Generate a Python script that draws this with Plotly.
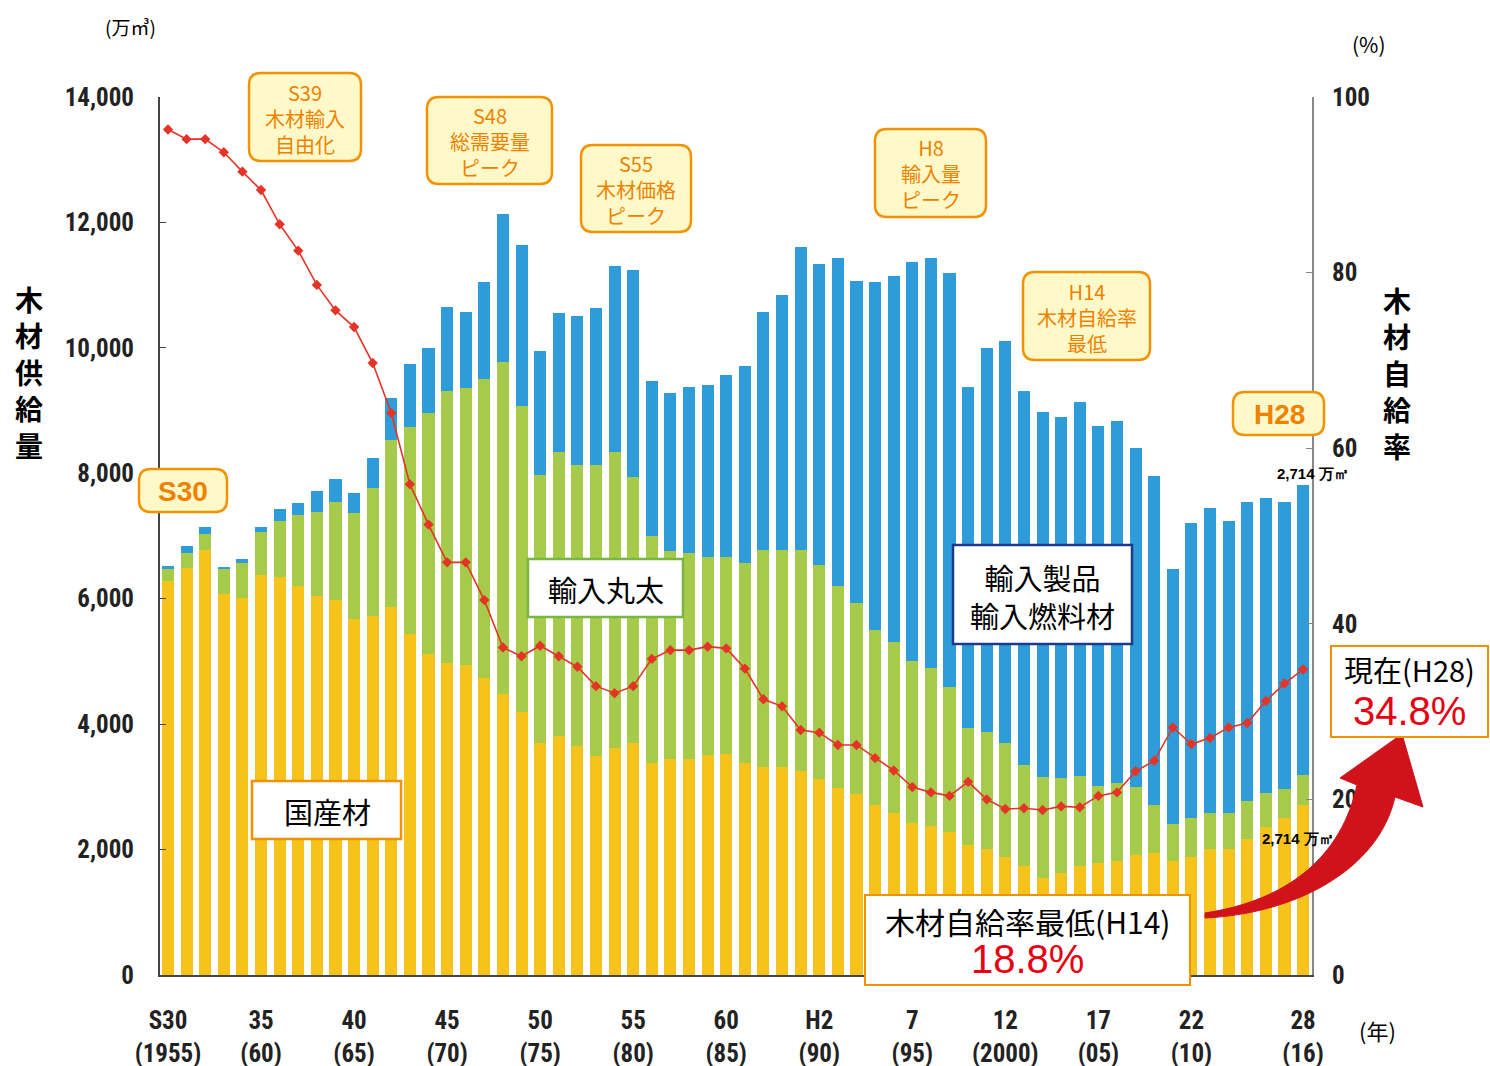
import plotly.graph_objects as go

# ---------------- data ----------------
years = list(range(1955, 2017))
domestic = [6287, 6482, 6777, 6075, 6016, 6378, 6351, 6203, 6048, 5979,
            5676, 5729, 5863, 5437, 5118, 4970, 4943, 4731, 4481, 4198,
            3694, 3816, 3656, 3497, 3624, 3694, 3385, 3439, 3444, 3508,
            3524, 3385, 3312, 3312, 3258, 3130, 2986, 2886, 2711, 2588,
            2428, 2376, 2285, 2073, 2009, 1886, 1740, 1551, 1622, 1738,
            1781, 1818, 1913, 1940, 1823, 1886, 2004, 2009, 2164, 2355,
            2499, 2714]
imported_logs = [187, 242, 255, 407, 553, 681, 893, 1132, 1339, 1567,
                 1685, 2031, 2668, 3305, 3838, 4347, 4412, 4772, 5298, 4874,
                 4283, 4528, 4476, 4635, 4720, 4251, 3615, 3321, 3280, 3162,
                 3146, 3179, 3465, 3465, 3519, 3407, 3216, 3041, 2790, 2727,
                 2586, 2515, 2312, 1861, 1870, 1818, 1610, 1610, 1515, 1435,
                 1233, 1239, 1079, 770, 585, 622, 584, 579, 611, 542,
                 467, 483]
imported_products = [53, 116, 116, 24, 64, 89, 182, 187, 335, 362,
                     328, 488, 665, 1005, 1036, 1339, 1212, 1551, 2350, 2572,
                     1972, 2216, 2376, 2508, 2961, 3296, 2471, 2524, 2647, 2738,
                     2897, 3146, 3790, 4066, 4836, 4799, 5225, 5139, 5554, 5836,
                     6359, 6537, 6592, 5447, 6113, 6405, 5963, 5820, 5756, 5968,
                     5745, 5777, 5405, 5251, 4066, 4704, 4863, 4651, 4772, 4704,
                     4571, 4622]
self_rate = [96.3, 95.2, 95.2, 93.7, 91.5, 89.4, 85.5, 82.5, 78.6, 75.7,
             73.8, 69.7, 64.0, 55.9, 51.3, 47.0, 47.0, 42.7, 37.3, 36.3,
             37.5, 36.3, 35.1, 32.9, 32.1, 32.9, 36.0, 37.0, 37.0, 37.4,
             37.2, 34.9, 31.4, 30.6, 27.9, 27.6, 26.2, 26.2, 24.7, 23.3,
             21.4, 20.8, 20.4, 22.0, 20.0, 18.9, 19.0, 18.8, 19.2, 19.1,
             20.4, 20.8, 23.2, 24.4, 28.2, 26.3, 27.0, 28.2, 28.7, 31.2,
             33.2, 34.8]

x_tickvals = [1955, 1960, 1965, 1970, 1975, 1980, 1985, 1990, 1995, 2000, 2005, 2010, 2016]
x_ticktext = ["S30<br>(1955)", "35<br>(60)", "40<br>(65)", "45<br>(70)", "50<br>(75)",
              "55<br>(80)", "60<br>(85)", "H2<br>(90)", "7<br>(95)", "12<br>(2000)",
              "17<br>(05)", "22<br>(10)", "28<br>(16)"]
y_tickvals = [0, 2000, 4000, 6000, 8000, 10000, 12000, 14000]
y_ticktext = ["0", "2,000", "4,000", "6,000", "8,000", "10,000", "12,000", "14,000"]
y2_tickvals = [0, 20, 40, 60, 80, 100]
y2_ticktext = ["0", "20", "40", "60", "80", "100"]

# ---------------- style ----------------
W, H = 1490, 1066
ML, MR, MT, MB = 160, 178, 97, 91
PW, PH = W - ML - MR, H - MT - MB

YELLOW = "#F5C31C"
GREEN = "#A6CB4B"
BLUE = "#2E9CD9"
RED = "#E63327"
ORANGE = "#F39200"
ORANGE_TXT = "#EE8200"
CREAM = "#FFF9C9"
NARROW = "Liberation Sans Narrow, Arial Narrow, Roboto Condensed, Liberation Sans, sans-serif"
JP = "Noto Sans CJK JP, Noto Sans, sans-serif"
SANS = "Liberation Sans, Arial, sans-serif"


def px(xp):
    return (xp - ML) / PW


def py(yp):
    return (H - MB - yp) / PH


def pt(xp, yp):
    return f"{px(xp):.5f},{py(yp):.5f}"


fig = go.Figure()
fig.add_trace(go.Bar(x=years, y=domestic, marker=dict(color=YELLOW, line=dict(width=0)), name="国産材"))
fig.add_trace(go.Bar(x=years, y=imported_logs, marker=dict(color=GREEN, line=dict(width=0)), name="輸入丸太"))
fig.add_trace(go.Bar(x=years, y=imported_products, marker=dict(color=BLUE, line=dict(width=0)), name="輸入製品・輸入燃料材"))
fig.add_trace(go.Scatter(x=years, y=self_rate, yaxis="y2", mode="lines+markers",
                         line=dict(color=RED, width=1.6),
                         marker=dict(symbol="diamond", size=8, color=RED),
                         name="木材自給率"))

shapes = []
annos = []


def rounded(x0, y0, x1, y1, r=12, fill=CREAM, line=ORANGE, lw=2.5):
    d = (f"M {pt(x0 + r, y0)} L {pt(x1 - r, y0)} Q {pt(x1, y0)} {pt(x1, y0 + r)} "
         f"L {pt(x1, y1 - r)} Q {pt(x1, y1)} {pt(x1 - r, y1)} "
         f"L {pt(x0 + r, y1)} Q {pt(x0, y1)} {pt(x0, y1 - r)} "
         f"L {pt(x0, y0 + r)} Q {pt(x0, y0)} {pt(x0 + r, y0)} Z")
    shapes.append(dict(type="path", path=d, xref="paper", yref="paper",
                       fillcolor=fill, line=dict(color=line, width=lw), layer="above"))


def rect(x0, y0, x1, y1, line, lw=2.5, fill="white"):
    shapes.append(dict(type="rect", xref="paper", yref="paper",
                       x0=px(x0), x1=px(x1), y0=py(y1), y1=py(y0),
                       fillcolor=fill, line=dict(color=line, width=lw), layer="above"))


def text(xp, yp, s, size, color="black", family=JP, weight="normal", xanchor="center", height=None):
    a = dict(x=px(xp), y=py(yp), xref="paper", yref="paper", text=s,
             showarrow=False, xanchor=xanchor, yanchor="middle",
             font=dict(size=size, color=color, family=family, weight=weight))
    if height:
        a["height"] = height
    annos.append(a)


# rounded orange event boxes (one multi-line text each)
events = [
    (249, 73, 361, 161, "S39<br>木材輸入<br>自由化"),
    (427, 97, 552, 184, "S48<br>総需要量<br>ピーク"),
    (581, 145, 691, 232, "S55<br>木材価格<br>ピーク"),
    (875, 129, 986, 217, "H8<br>輸入量<br>ピーク"),
    (1023, 272, 1150, 360, "H14<br>木材自給率<br>最低"),
]
for x0, y0, x1, y1, s in events:
    rounded(x0, y0, x1, y1)
    text((x0 + x1) / 2, (y0 + y1) / 2 + 1, s, 20, ORANGE_TXT)

rounded(139, 469, 227, 512)
text(183, 491, "S30", 28, ORANGE_TXT, weight="bold", family=SANS)
rounded(1233, 392, 1324, 435)
text(1279, 414, "H28", 28, ORANGE_TXT, weight="bold", family=SANS)

# series labels
rect(528, 559, 683, 617, "#78B542")
text(606, 589, "輸入丸太", 29)
rect(953, 545, 1132, 644, "#1E3A8C")
text(1042, 596, "輸入製品<br>輸入燃料材", 29)
rect(252, 781, 401, 839, ORANGE)
text(327, 811, "国産材", 29)

# red curved arrow
arrow = (f"M {pt(1205, 913)} C {pt(1290, 900)} {pt(1342, 855)} {pt(1357, 785)} "
         f"L {pt(1340, 778)} L {pt(1402, 734)} L {pt(1423, 807)} L {pt(1395, 797)} "
         f"C {pt(1378, 872)} {pt(1292, 914)} {pt(1205, 918)} Z")
shapes.append(dict(type="path", path=arrow, xref="paper", yref="paper",
                   fillcolor="#D0121B", line=dict(color="#D0121B", width=1), layer="above"))

# highlight boxes
rect(865, 895, 1190, 985, ORANGE, lw=2)
text(1027, 921, "木材自給率最低(H14)", 30, height=38)
text(1027, 959, "18.8%", 40, "#E60012", family=SANS, height=40)
rect(1331, 646, 1488, 737, ORANGE, lw=2)
text(1409, 669, "現在(H28)", 29, height=38)
text(1409, 711, "34.8%", 40, "#E60012", family=SANS, height=42)

# value labels
text(1313, 474, "2,714 万㎥", 15, weight="bold", family=SANS)
text(1298, 838, "2,714 万㎥", 15, weight="bold", family=SANS)

# units
text(130, 27, "(万㎥)", 19, family=JP)
text(1369, 44, "(%)", 21, family=JP)
text(1377, 1030, "(年)", 22, family=JP)

# vertical axis titles (stacked characters)
text(29, 372, "木<br>材<br>供<br>給<br>量", 28, weight="bold")
text(1397, 373, "木<br>材<br>自<br>給<br>率", 28, weight="bold")

fig.update_layout(
    width=W, height=H,
    margin=dict(l=ML, r=MR, t=MT, b=MB, autoexpand=False),
    barmode="stack", bargap=0.35,
    plot_bgcolor="white", paper_bgcolor="white",
    showlegend=False,
    shapes=shapes, annotations=annos,
    xaxis=dict(range=[1954.57, 2016.48], tickvals=x_tickvals, ticktext=x_ticktext,
               automargin=False,
               showgrid=False, zeroline=False, showline=True, linecolor="#444", linewidth=2,
               ticks="", ticklabelstandoff=22,
               tickfont=dict(family=NARROW, size=25, color="#222", weight="bold")),
    yaxis=dict(range=[0, 14000], tickvals=y_tickvals, ticktext=y_ticktext,
               automargin=False,
               showgrid=False, zeroline=False, showline=True, linecolor="#444", linewidth=2,
               ticks="inside", ticklen=6, tickcolor="#444", ticklabelstandoff=19,
               tickfont=dict(family=NARROW, size=25, color="#222", weight="bold")),
    yaxis2=dict(range=[0, 100], tickvals=y2_tickvals, ticktext=y2_ticktext, overlaying="y", side="right",
                automargin=False,
                showgrid=False, zeroline=False, showline=True, linecolor="#888", linewidth=2,
                ticks="inside", ticklen=6, tickcolor="#888", ticklabelstandoff=13,
                tickfont=dict(family=NARROW, size=25, color="#222", weight="bold")),
)

fig.write_html("out.html", config={"displayModeBar": False},
               post_script="document.body.style.margin='0';document.body.style.overflow='hidden';")
